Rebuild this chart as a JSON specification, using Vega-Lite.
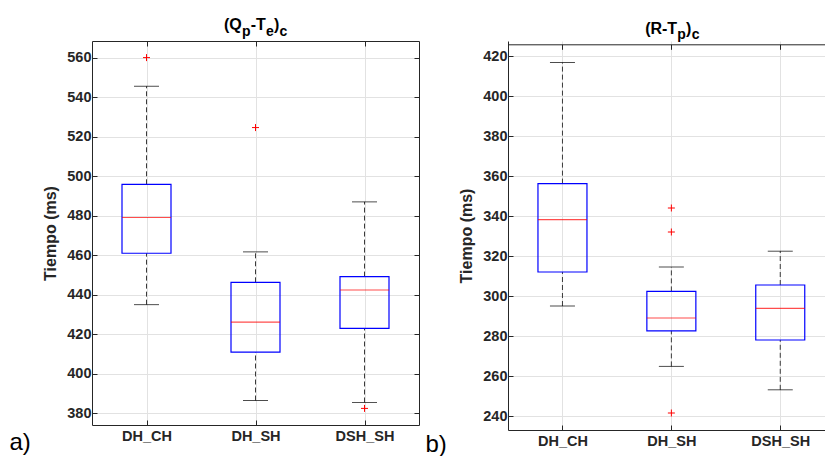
{
  "$schema": "https://vega.github.io/schema/vega-lite/v6.json",
  "background": "white",
  "padding": {"left": 9, "top": 17, "right": 0, "bottom": 0},
  "spacing": 5,
  "config": {
    "font": "Liberation Sans",
    "view": {"stroke": null},
    "axis": {
      "domainColor": "#262626",
      "tickColor": "#262626",
      "labelColor": "#262626",
      "labelFont": "Liberation Sans",
      "labelFontWeight": "bold",
      "labelFontSize": 14.5,
      "titleFont": "Liberation Sans",
      "titleColor": "#262626",
      "gridColor": "#e2e2e2",
      "gridWidth": 1,
      "tickSize": -5,
      "domainWidth": 1
    },
    "text": {"font": "Liberation Sans", "fontWeight": "bold", "color": "#000000", "align": "left", "baseline": "alphabetic"}
  },
  "datasets": {
    "qpte": [
      {"grupo": "DH_CH", "inferior": 435.0, "q1": 461.0, "mediana": 479.1, "q3": 495.9, "superior": 545.5},
      {"grupo": "DH_SH", "inferior": 386.5, "q1": 411.0, "mediana": 426.2, "q3": 446.3, "superior": 461.7},
      {"grupo": "DSH_SH", "inferior": 385.5, "q1": 423.0, "mediana": 442.4, "q3": 449.2, "superior": 487.0}
    ],
    "qpte_atipicos": [
      {"grupo": "DH_CH", "valor": 560.0},
      {"grupo": "DH_SH", "valor": 524.6},
      {"grupo": "DSH_SH", "valor": 382.5}
    ],
    "rtp": [
      {"grupo": "DH_CH", "inferior": 295.0, "q1": 312.0, "mediana": 338.2, "q3": 356.2, "superior": 416.7},
      {"grupo": "DH_SH", "inferior": 264.8, "q1": 282.6, "mediana": 289.0, "q3": 302.3, "superior": 314.5},
      {"grupo": "DSH_SH", "inferior": 253.1, "q1": 278.0, "mediana": 293.8, "q3": 305.5, "superior": 322.4}
    ],
    "rtp_atipicos": [
      {"grupo": "DH_SH", "valor": 344.0},
      {"grupo": "DH_SH", "valor": 332.0},
      {"grupo": "DH_SH", "valor": 241.5}
    ],
    "uno": [{}]
  },
  "hconcat": [
    {
      "width": 327,
      "height": 384,
      "resolve": {"axis": {"x": "independent", "y": "independent"}},
      "layer": [
        {
          "data": {"name": "qpte"},
          "mark": {"type": "rule", "color": "#3a3a3a", "strokeDash": [5, 3], "strokeWidth": 1},
          "encoding": {
            "x": {
              "field": "grupo", "type": "nominal",
              "scale": {"type": "point", "domain": ["DH_CH", "DH_SH", "DSH_SH"], "padding": 0.5, "align": 0.5},
              "axis": {
                "orient": "bottom", "grid": true, "labelAngle": 0, "labelPadding": 9,
                "title": "a)", "titleAnchor": "start", "titleAlign": "left", "titleX": -83, "titleY": 24,
                "titleBaseline": "alphabetic", "titleFontSize": 24, "titleFontWeight": "normal", "titleColor": "#000000"
              }
            },
            "y": {
              "field": "q3", "type": "quantitative",
              "scale": {"domain": [374.1, 568.4], "nice": false, "zero": false},
              "axis": {
                "orient": "left", "grid": true, "values": [380, 400, 420, 440, 460, 480, 500, 520, 540, 560],
                "labelPadding": 6, "title": "Tiempo (ms)", "titleFontSize": 16, "titleFontWeight": "bold", "titlePadding": 8
              }
            },
            "y2": {"field": "superior"}
          }
        },
        {
          "data": {"name": "qpte"},
          "mark": {"type": "rule", "color": "#3a3a3a", "strokeDash": [5, 3], "strokeWidth": 1},
          "encoding": {
            "x": {"field": "grupo", "type": "nominal", "axis": null},
            "y": {"field": "inferior", "type": "quantitative", "axis": null},
            "y2": {"field": "q1"}
          }
        },
        {
          "data": {"name": "qpte"},
          "mark": {"type": "tick", "color": "#000000", "size": 25, "thickness": 1, "orient": "horizontal"},
          "encoding": {
            "x": {"field": "grupo", "type": "nominal", "axis": null},
            "y": {"field": "superior", "type": "quantitative", "axis": null}
          }
        },
        {
          "data": {"name": "qpte"},
          "mark": {"type": "tick", "color": "#000000", "size": 25, "thickness": 1, "orient": "horizontal"},
          "encoding": {
            "x": {"field": "grupo", "type": "nominal", "axis": null},
            "y": {"field": "inferior", "type": "quantitative", "axis": null}
          }
        },
        {
          "data": {"name": "qpte"},
          "mark": {"type": "bar", "size": 49, "fillOpacity": 0, "stroke": "#0000ff", "strokeWidth": 1.2},
          "encoding": {
            "x": {"field": "grupo", "type": "nominal", "axis": null},
            "y": {"field": "q1", "type": "quantitative", "axis": null},
            "y2": {"field": "q3"}
          }
        },
        {
          "data": {"name": "qpte"},
          "mark": {"type": "tick", "color": "#ff0000", "size": 49, "thickness": 1.2, "orient": "horizontal"},
          "encoding": {
            "x": {"field": "grupo", "type": "nominal", "axis": {"orient": "top", "labels": false, "title": null, "grid": false}},
            "y": {"field": "mediana", "type": "quantitative", "axis": {"orient": "right", "labels": false, "title": null, "grid": false, "values": [380, 400, 420, 440, 460, 480, 500, 520, 540, 560]}}
          }
        },
        {
          "data": {"name": "qpte_atipicos"},
          "mark": {"type": "point", "shape": "M-1,0L1,0M0,-1L0,1", "filled": false, "size": 49, "stroke": "#ff0000", "strokeWidth": 1, "opacity": 1},
          "encoding": {
            "x": {"field": "grupo", "type": "nominal", "axis": null},
            "y": {"field": "valor", "type": "quantitative", "axis": null}
          }
        },
        {
          "data": {"name": "uno"},
          "mark": {"type": "text", "text": "(Q", "fontSize": 16, "dx": -31.6, "dy": -10.9},
          "encoding": {"x": {"datum": "DH_SH", "type": "nominal", "axis": null}, "y": {"datum": 568.4, "type": "quantitative", "axis": null}}
        },
        {
          "data": {"name": "uno"},
          "mark": {"type": "text", "text": "p", "fontSize": 14, "dx": -13.6, "dy": -5.2},
          "encoding": {"x": {"datum": "DH_SH", "type": "nominal", "axis": null}, "y": {"datum": 568.4, "type": "quantitative", "axis": null}}
        },
        {
          "data": {"name": "uno"},
          "mark": {"type": "text", "text": "-T", "fontSize": 16, "dx": -4.85, "dy": -10.9},
          "encoding": {"x": {"datum": "DH_SH", "type": "nominal", "axis": null}, "y": {"datum": 568.4, "type": "quantitative", "axis": null}}
        },
        {
          "data": {"name": "uno"},
          "mark": {"type": "text", "text": "e", "fontSize": 14, "dx": 10.45, "dy": -5.2},
          "encoding": {"x": {"datum": "DH_SH", "type": "nominal", "axis": null}, "y": {"datum": 568.4, "type": "quantitative", "axis": null}}
        },
        {
          "data": {"name": "uno"},
          "mark": {"type": "text", "text": ")", "fontSize": 16, "dx": 18.4, "dy": -10.9},
          "encoding": {"x": {"datum": "DH_SH", "type": "nominal", "axis": null}, "y": {"datum": 568.4, "type": "quantitative", "axis": null}}
        },
        {
          "data": {"name": "uno"},
          "mark": {"type": "text", "text": "c", "fontSize": 14, "dx": 23.9, "dy": -5.2},
          "encoding": {"x": {"datum": "DH_SH", "type": "nominal", "axis": null}, "y": {"datum": 568.4, "type": "quantitative", "axis": null}}
        }
      ]
    },
    {
      "width": 317,
      "height": 389,
      "resolve": {"axis": {"x": "independent", "y": "independent"}},
      "layer": [
        {
          "data": {"name": "rtp"},
          "mark": {"type": "rule", "color": "#3a3a3a", "strokeDash": [5, 3], "strokeWidth": 1},
          "encoding": {
            "x": {
              "field": "grupo", "type": "nominal",
              "scale": {"type": "point", "domain": ["DH_CH", "DH_SH", "DSH_SH"], "padding": 0.4555, "align": 0.549},
              "axis": {
                "orient": "bottom", "grid": true, "labelAngle": 0, "labelPadding": 9,
                "title": "b)", "titleAnchor": "start", "titleAlign": "left", "titleX": -83, "titleY": 21,
                "titleBaseline": "alphabetic", "titleFontSize": 24, "titleFontWeight": "normal", "titleColor": "#000000"
              }
            },
            "y": {
              "field": "q3", "type": "quantitative",
              "scale": {"domain": [233, 427.5], "nice": false, "zero": false},
              "axis": {
                "orient": "left", "grid": true, "values": [240, 260, 280, 300, 320, 340, 360, 380, 400, 420],
                "labelPadding": 6, "title": "Tiempo (ms)", "titleFontSize": 16, "titleFontWeight": "bold", "titlePadding": 8
              }
            },
            "y2": {"field": "superior"}
          }
        },
        {
          "data": {"name": "rtp"},
          "mark": {"type": "rule", "color": "#3a3a3a", "strokeDash": [5, 3], "strokeWidth": 1},
          "encoding": {
            "x": {"field": "grupo", "type": "nominal", "axis": null},
            "y": {"field": "inferior", "type": "quantitative", "axis": null},
            "y2": {"field": "q1"}
          }
        },
        {
          "data": {"name": "rtp"},
          "mark": {"type": "tick", "color": "#000000", "size": 25, "thickness": 1, "orient": "horizontal"},
          "encoding": {
            "x": {"field": "grupo", "type": "nominal", "axis": null},
            "y": {"field": "superior", "type": "quantitative", "axis": null}
          }
        },
        {
          "data": {"name": "rtp"},
          "mark": {"type": "tick", "color": "#000000", "size": 25, "thickness": 1, "orient": "horizontal"},
          "encoding": {
            "x": {"field": "grupo", "type": "nominal", "axis": null},
            "y": {"field": "inferior", "type": "quantitative", "axis": null}
          }
        },
        {
          "data": {"name": "rtp"},
          "mark": {"type": "bar", "size": 49, "fillOpacity": 0, "stroke": "#0000ff", "strokeWidth": 1.2},
          "encoding": {
            "x": {"field": "grupo", "type": "nominal", "axis": null},
            "y": {"field": "q1", "type": "quantitative", "axis": null},
            "y2": {"field": "q3"}
          }
        },
        {
          "data": {"name": "rtp"},
          "mark": {"type": "tick", "color": "#ff0000", "size": 49, "thickness": 1.2, "orient": "horizontal"},
          "encoding": {
            "x": {"field": "grupo", "type": "nominal", "axis": {"orient": "top", "labels": false, "title": null, "grid": false, "offset": -3.3}},
            "y": {"field": "mediana", "type": "quantitative", "axis": null}
          }
        },
        {
          "data": {"name": "rtp_atipicos"},
          "mark": {"type": "point", "shape": "M-1,0L1,0M0,-1L0,1", "filled": false, "size": 49, "stroke": "#ff0000", "strokeWidth": 1, "opacity": 1},
          "encoding": {
            "x": {"field": "grupo", "type": "nominal", "axis": null},
            "y": {"field": "valor", "type": "quantitative", "axis": null}
          }
        },
        {
          "data": {"name": "uno"},
          "mark": {"type": "text", "text": "(R-T", "fontSize": 16, "dx": -26.2, "dy": -7.5},
          "encoding": {"x": {"datum": "DH_SH", "type": "nominal", "axis": null}, "y": {"datum": 427.5, "type": "quantitative", "axis": null}}
        },
        {
          "data": {"name": "uno"},
          "mark": {"type": "text", "text": "p", "fontSize": 14, "dx": 6.0, "dy": -1.7},
          "encoding": {"x": {"datum": "DH_SH", "type": "nominal", "axis": null}, "y": {"datum": 427.5, "type": "quantitative", "axis": null}}
        },
        {
          "data": {"name": "uno"},
          "mark": {"type": "text", "text": ")", "fontSize": 16, "dx": 14.75, "dy": -7.5},
          "encoding": {"x": {"datum": "DH_SH", "type": "nominal", "axis": null}, "y": {"datum": 427.5, "type": "quantitative", "axis": null}}
        },
        {
          "data": {"name": "uno"},
          "mark": {"type": "text", "text": "c", "fontSize": 14, "dx": 20.3, "dy": -1.7},
          "encoding": {"x": {"datum": "DH_SH", "type": "nominal", "axis": null}, "y": {"datum": 427.5, "type": "quantitative", "axis": null}}
        }
      ]
    }
  ]
}
